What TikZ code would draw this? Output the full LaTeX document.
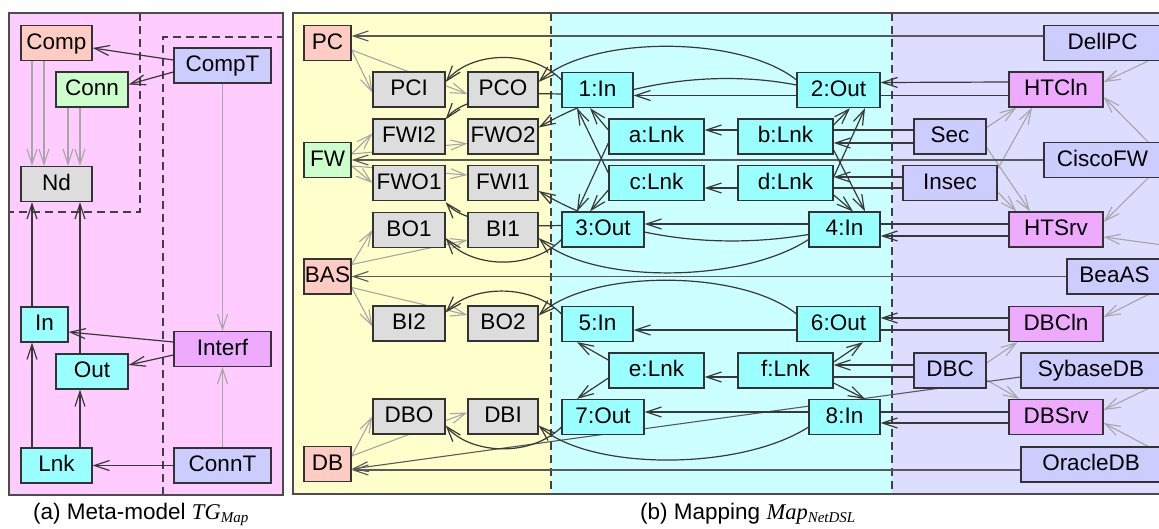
\documentclass[tikz,border=0pt]{standalone}
\usepackage{fontspec}
\setmainfont{Liberation Sans}
\newfontfamily\capserif{Liberation Serif}
\usetikzlibrary{arrows.meta,calc}
\pgfdeclarelayer{bg}
\pgfdeclarelayer{edges}
\pgfsetlayers{bg,edges,main}
\definecolor{cpink}{HTML}{FFCCFF}
\definecolor{csalmon}{HTML}{FFCCC4}
\definecolor{cgreen}{HTML}{CCFFCC}
\definecolor{cblue}{HTML}{CCCCFF}
\definecolor{cmag}{HTML}{EEAAFF}
\definecolor{ccyan}{HTML}{99FFFF}
\definecolor{cgray}{HTML}{DDDDDD}
\definecolor{cyel}{HTML}{FFFFCC}
\definecolor{ccyanbg}{HTML}{CCFFFF}
\definecolor{clav}{HTML}{DDDDFF}
\begin{document}
\begin{tikzpicture}[x=1pt,y=-1pt,
  box/.style={draw=black!80, line width=1.3pt, minimum height=35pt, minimum width=#1, inner sep=0pt,
     font=\fontsize{22.5}{26}\selectfont, text height=16pt, text depth=4pt},
  ga/.style={draw=black!35, line width=1.1pt, -{Straight Barb[length=15pt,width=10pt]}},
  ba/.style={draw=black!78, line width=1.2pt, -{Straight Barb[length=15pt,width=10pt]}},
  la/.style={draw=black!65, line width=1.1pt, -{Straight Barb[length=15pt,width=10pt]}},
  dsh/.style={draw=black!75, line width=1.4pt, dash pattern=on 8pt off 5pt},
  frame/.style={draw=black!70, line width=1.4pt}]
\useasboundingbox (0,0) rectangle (1159,528);
\clip (0,0) rectangle (1159,528);

% ---------- panel backgrounds ----------
\begin{pgfonlayer}{bg}
  \fill[white] (0,0) rectangle (1159,528);
  \fill[cpink] (9,13) rectangle (283,495);
  \draw[dsh] (140,13) -- (140,212) -- (9,212);
  \draw[dsh] (163,495) -- (163,37) -- (283,37);
  \draw[frame] (9,13) rectangle (283,495);
  \fill[cyel] (293,13) rectangle (551,494);
  \fill[ccyanbg] (551,13) rectangle (892,494);
  \fill[clav] (892,13) rectangle (1175,494);
  \draw[dsh] (551,13) -- (551,494);
  \draw[dsh] (892,13) -- (892,494);
  \draw[frame] (293,13) rectangle (1175,494);
\end{pgfonlayer}

% ---------- panel (a) nodes ----------
\node[box=71pt, fill=csalmon] (comp) at (56.5,43) {Comp};
\node[box=72pt, fill=cgreen] (conn) at (92,89.5) {Conn};
\node[box=97pt, fill=cblue] (compt) at (222.5,65.5) {CompT};
\node[box=71pt, fill=cgray] (nd) at (56.5,184) {Nd};
\node[box=47pt, fill=ccyan] (in) at (44.5,324.5) {In};
\node[box=72pt, fill=ccyan] (out) at (92,371.5) {Out};
\node[box=97pt, fill=cmag] (interf) at (222.5,349) {Interf};
\node[box=71pt, fill=ccyan] (lnk) at (56.5,465.5) {Lnk};
\node[box=97pt, fill=cblue] (connt) at (222.5,465.5) {ConnT};

% ---------- panel (b) nodes: left ----------
\node[box=47pt, fill=csalmon] (PC) at (327.5,43) {PC};
\node[box=72pt, fill=cgray] (PCI) at (409,89.5) {PCI};
\node[box=70pt, fill=cgray] (PCO) at (503,89.5) {PCO};
\node[box=72pt, fill=cgray] (FWIb) at (409,136.5) {FWI2};
\node[box=70pt, fill=cgray] (FWOb) at (503,136.5) {FWO2};
\node[box=47pt, fill=cgreen] (FW) at (327.5,160) {FW};
\node[box=72pt, fill=cgray] (FWOa) at (409,183) {FWO1};
\node[box=70pt, fill=cgray] (FWIa) at (503,183) {FWI1};
\node[box=72pt, fill=cgray] (BOa) at (409,230) {BO1};
\node[box=70pt, fill=cgray] (BIa) at (503,230) {BI1};
\node[box=47pt, fill=csalmon] (BAS) at (327.5,276.5) {BAS};
\node[box=72pt, fill=cgray] (BIb) at (409,323.5) {BI2};
\node[box=70pt, fill=cgray] (BOb) at (503,323.5) {BO2};
\node[box=72pt, fill=cgray] (DBO) at (409,416.5) {DBO};
\node[box=70pt, fill=cgray] (DBI) at (503,416.5) {DBI};
\node[box=47pt, fill=csalmon] (DB) at (327.5,464) {DB};

% ---------- middle ----------
\node[box=71pt, fill=ccyan] (i1) at (597.5,90) {1:In};
\node[box=83pt, fill=ccyan] (o2) at (838.5,90) {2:Out};
\node[box=95pt, fill=ccyan] (la) at (656.5,136.5) {a:Lnk};
\node[box=95pt, fill=ccyan] (lb) at (785.5,136.5) {b:Lnk};
\node[box=95pt, fill=ccyan] (lc) at (656.5,183) {c:Lnk};
\node[box=95pt, fill=ccyan] (ld) at (785.5,183) {d:Lnk};
\node[box=82pt, fill=ccyan] (o3) at (603,229.5) {3:Out};
\node[box=71pt, fill=ccyan] (i4) at (844.5,229.5) {4:In};
\node[box=71pt, fill=ccyan] (i5) at (597.5,324) {5:In};
\node[box=83pt, fill=ccyan] (o6) at (838.5,324) {6:Out};
\node[box=95pt, fill=ccyan] (le) at (656.5,370.5) {e:Lnk};
\node[box=95pt, fill=ccyan] (lf) at (785.5,370.5) {f:Lnk};
\node[box=82pt, fill=ccyan] (o7) at (603,417) {7:Out};
\node[box=71pt, fill=ccyan] (i8) at (844.5,417) {8:In};

% ---------- right ----------
\node[box=117pt, fill=cblue] (dell) at (1102.5,43) {DellPC};
\node[box=94pt, fill=cmag] (htcln) at (1056,89.5) {HTCln};
\node[box=72pt, fill=cblue] (sec) at (950,136.5) {Sec};
\node[box=117pt, fill=cblue] (cisco) at (1102.5,160) {CiscoFW};
\node[box=94pt, fill=cblue] (insec) at (950,183) {Insec};
\node[box=94pt, fill=cmag] (htsrv) at (1056,229.5) {HTSrv};
\node[box=95pt, fill=cblue] (bea) at (1114.5,276.5) {BeaAS};
\node[box=94pt, fill=cmag] (dbcln) at (1056,324) {DBCln};
\node[box=72pt, fill=cblue] (dbc) at (950,370.5) {DBC};
\node[box=140pt, fill=cblue] (sybase) at (1091,370.5) {SybaseDB};
\node[box=94pt, fill=cmag] (dbsrv) at (1056,417) {DBSrv};
\node[box=140pt, fill=cblue] (oracle) at (1091,464.5) {OracleDB};

% ---------- captions ----------
\node[anchor=base west, inner sep=0pt, font=\fontsize{22.5}{26}\selectfont] (capa) at (33,519)
  {(a) Meta-model {\capserif\itshape TG\raisebox{-3.5pt}{\fontsize{15}{15}\selectfont Map}}};
\node[anchor=base west, inner sep=0pt, font=\fontsize{22.5}{26}\selectfont] (capb) at (640,519)
  {(b) Mapping {\capserif\itshape Map\raisebox{-3.5pt}{\fontsize{15}{15}\selectfont NetDSL}}};

\begin{pgfonlayer}{edges}
% ----- panel (a) edges -----
\draw[ga] ($(comp.south)+(-24.5,0)$) -- ($(nd.north)+(-24.5,0)$);
\draw[ga] ($(comp.south)+(-12.5,0)$) -- ($(nd.north)+(-12.5,0)$);
\draw[ga] ($(conn.south)+(-24,0)$) -- ($(nd.north)+(11.5,0)$);
\draw[ga] ($(conn.south)+(-12,0)$) -- ($(nd.north)+(23.5,0)$);
\draw[ba] ($(compt.west)+(0,-5.5)$) -- ($(comp.east)+(0,5)$);
\draw[ba] ($(compt.west)+(0,6.5)$) -- ($(conn.east)+(0,-5)$);
\draw[ga] (compt.south) -- (interf.north);
\draw[ga] (connt.north) -- (interf.south);
\draw[ba] ($(interf.west)+(0,-7)$) -- ($(in.east)+(0,7.5)$);
\draw[ba] ($(interf.west)+(0,6)$) -- ($(out.east)+(0,-6.5)$);
\draw[ba] (connt.west) -- (lnk.east);
\draw[ba] ($(lnk.north)+(-24.5,0)$) -- ($(in.south)+(-12.5,0)$);
\draw[ba] ($(in.north)+(-12.5,0)$) -- ($(nd.south)+(-24.5,0)$);
\draw[ba] ($(lnk.north)+(23.5,0)$) -- ($(out.south)+(-12,0)$);
\draw[ba] ($(out.north)+(-12,0)$) -- ($(nd.south)+(23.5,0)$);

% ----- panel (b): components to ports (gray) -----
\draw[ga] ($(PC.east)+(0,7)$) -- ($(PCI.west)+(0,3)$);
\draw[ga] ($(PC.east)+(0,7)$) -- ($(PCO.west)+(0,4.5)$);
\draw[ga] ($(FW.east)+(0,-6)$) -- ($(FWIb.west)+(0,-3)$);
\draw[ga] ($(FW.east)+(0,-6)$) -- ($(FWOb.west)+(0,7)$);
\draw[ga] ($(FW.east)+(0,6)$) -- (FWOa.west);
\draw[ga] ($(FW.east)+(0,6)$) -- ($(FWIa.west)+(0,-8)$);
\draw[ga] ($(BAS.east)+(0,-12)$) -- (BOa.west);
\draw[ga] ($(BAS.east)+(0,-12)$) -- ($(BIa.west)+(0,10)$);
\draw[ga] ($(BAS.east)+(0,11)$) -- ($(BIb.west)+(0,3)$);
\draw[ga] ($(BAS.east)+(0,11)$) -- ($(BOb.west)+(0,-8.5)$);
\draw[ga] ($(DB.east)+(0,-8)$) -- (DBO.west);
\draw[ga] ($(DB.east)+(0,-8)$) -- ($(DBI.west)+(0,-4)$);

% ----- right: gray typing -----
\draw[ga] ($(dell.south)+(45.5,0)$) -- ($(htcln.east)+(0,-7.5)$);
\draw[ga] ($(cisco.north)+(45.5,0)$) -- ($(htcln.east)+(0,7.5)$);
\draw[ga] ($(cisco.south)+(45.5,0)$) -- ($(htsrv.east)+(0,-7.5)$);
\draw[ga] ($(bea.north east)+(10,-12)$) -- ($(htsrv.east)+(0,7.5)$);
\draw[ga] ($(bea.south)+(33.5,0)$) -- ($(dbcln.east)+(0,-7)$);
\draw[ga] ($(sybase.south)+(57,0)$) -- ($(dbsrv.east)+(0,-7)$);
\draw[ga] ($(oracle.north)+(57,0)$) -- ($(dbsrv.east)+(0,6)$);
\draw[ga] ($(sec.east)+(0,-9)$) -- ($(htcln.south west)+(8,0)$);
\draw[ga] ($(sec.east)+(0,11)$) -- ($(htsrv.north)+(-26,0)$);
\draw[ga] ($(insec.north east)+(0,4)$) -- ($(htcln.south)+(-24,0)$);
\draw[ga] ($(insec.east)+(0,9)$) -- ($(htsrv.north west)+(8,0)$);
\draw[ga] ($(dbc.east)+(0,-7.5)$) -- ($(dbcln.south west)+(9,0)$);
\draw[ga] ($(dbc.east)+(0,9.5)$) -- ($(dbsrv.north west)+(11,0)$);

% ----- long lines CompT -> Comp -----
\draw[la] ($(dell.west)+(0,-7)$) -- ($(PC.east)+(0,-7)$);
\draw[la] (cisco.west) -- (FW.east);
\draw[la] (bea.west) -- (BAS.east);
\draw[la] ($(sybase.west)+(0,6.5)$) -- ($(DB.east)+(0,5)$);
\draw[la] ($(oracle.west)+(0,5.5)$) -- ($(DB.east)+(0,6)$);

% ----- ConnT -> Lnk -----
\draw[ba] ($(sec.west)+(0,6.5)$) -- ($(lb.east)+(0,6.5)$);
\draw[ba] ($(sec.west)+(0,-6.5)$) -- ($(la.east)+(0,-6.5)$);
\draw[ba] ($(insec.west)+(0,-6)$) -- ($(ld.east)+(0,-6)$);
\draw[ba] ($(insec.west)+(0,5)$) -- ($(lc.east)+(0,5)$);
\draw[ba] ($(dbc.west)+(0,-5.5)$) -- ($(lf.east)+(0,-5.5)$);
\draw[ba] ($(dbc.west)+(0,6.5)$) -- ($(le.east)+(0,6.5)$);

% ----- Interf -> In/Out -----
\draw[ba] ($(htcln.west)+(0,-7.5)$) -- ($(o2.east)+(0,-7.5)$);
\draw[ba] ($(htcln.west)+(0,6)$) -- ($(i1.east)+(0,5.5)$);
\draw[ba] ($(htsrv.west)+(0,6.5)$) -- ($(i4.east)+(0,6.5)$);
\draw[ba] ($(htsrv.west)+(0,-5.5)$) -- ($(o3.east)+(0,-5.5)$);
\draw[ba] ($(dbcln.west)+(0,-6)$) -- ($(o6.east)+(0,-6)$);
\draw[ba] ($(dbcln.west)+(0,6)$) -- ($(i5.east)+(0,6)$);
\draw[ba] ($(dbsrv.west)+(0,6)$) -- ($(i8.east)+(0,6)$);
\draw[ba] ($(dbsrv.west)+(0,-5)$) -- ($(o7.east)+(0,-5)$);

% ----- Lnk -> In/Out -----
\draw[ba] ($(la.west)+(0,-6.5)$) -- ($(i1.south)+(-7.5,0)$);
\draw[ba] ($(la.west)+(0,6.5)$) -- ($(o3.north)+(-26,0)$);
\draw[ba] ($(lc.west)+(0,-10)$) -- ($(i1.south)+(-20.5,0)$);
\draw[ba] ($(lc.west)+(0,7)$) -- ($(o3.north)+(-13,0)$);
\draw[ba] ($(lb.east)+(0,-11.5)$) -- ($(o2.south)+(11.5,0)$);
\draw[ba] ($(lb.east)+(0,13.5)$) -- ($(i4.north)+(20.5,0)$);
\draw[ba] ($(ld.east)+(0,-6)$) -- ($(o2.south)+(26.5,0)$);
\draw[ba] ($(ld.east)+(0,12)$) -- ($(i4.north)+(8.5,0)$);
\draw[ba] ($(le.west)+(0,-10.5)$) -- ($(i5.south)+(-20.5,0)$);
\draw[ba] ($(le.west)+(0,7.5)$) -- ($(o7.north)+(-26,0)$);
\draw[ba] ($(lf.east)+(0,-8.5)$) -- ($(o6.south)+(24.5,0)$);
\draw[ba] ($(lf.east)+(0,12.5)$) -- ($(i8.north)+(20.5,0)$);

% ----- Out/In -> Nd (curves) -----
\draw[ba] ($(i1.north west)+(0,8)$) .. controls (530,48) and (470,52) .. ($(PCI.east)+(0,-7.5)$);
\draw[ba] ($(o2.north west)+(0,8)$) .. controls (740,35) and (590,35) .. ($(PCO.east)+(0,-7.5)$);
\draw[ba] ($(o2.west)+(0,-5)$) .. controls (720,70) and (620,80) .. ($(FWOb.east)+(0,-9)$);
\draw[ba] ($(i1.west)+(0,4)$) .. controls (520,93) and (465,95) .. ($(FWIb.north east)+(0,1)$);
\draw[ba] ($(o3.south west)+(0,-8)$) .. controls (530,271.5) and (470,267.5) .. ($(BOa.east)+(0,8)$);
\draw[ba] ($(i4.south west)+(0,-8)$) .. controls (740,284) and (590,284) .. ($(BIa.east)+(0,8)$);
\draw[ba] ($(i4.west)+(0,5)$) .. controls (720,249.5) and (620,239.5) .. ($(FWIa.east)+(0,8)$);
\draw[ba] ($(o3.west)+(0,-4)$) .. controls (520,226.5) and (465,224.5) .. ($(FWOa.south east)+(0,1)$);
\draw[ba] ($(i5.north west)+(0,8)$) .. controls (530,282) and (470,286) .. ($(BIb.east)+(0,-11)$);
\draw[ba] ($(o6.north west)+(0,8)$) .. controls (740,269) and (590,269) .. ($(BOb.east)+(0,-8)$);
\draw[ba] ($(o7.south west)+(0,-8)$) .. controls (530,458) and (470,454) .. ($(DBO.east)+(0,9)$);
\draw[ba] ($(i8.south west)+(0,-8)$) .. controls (740,471) and (590,471) .. ($(DBI.east)+(0,9)$);
\end{pgfonlayer}
\end{tikzpicture}
\end{document}
